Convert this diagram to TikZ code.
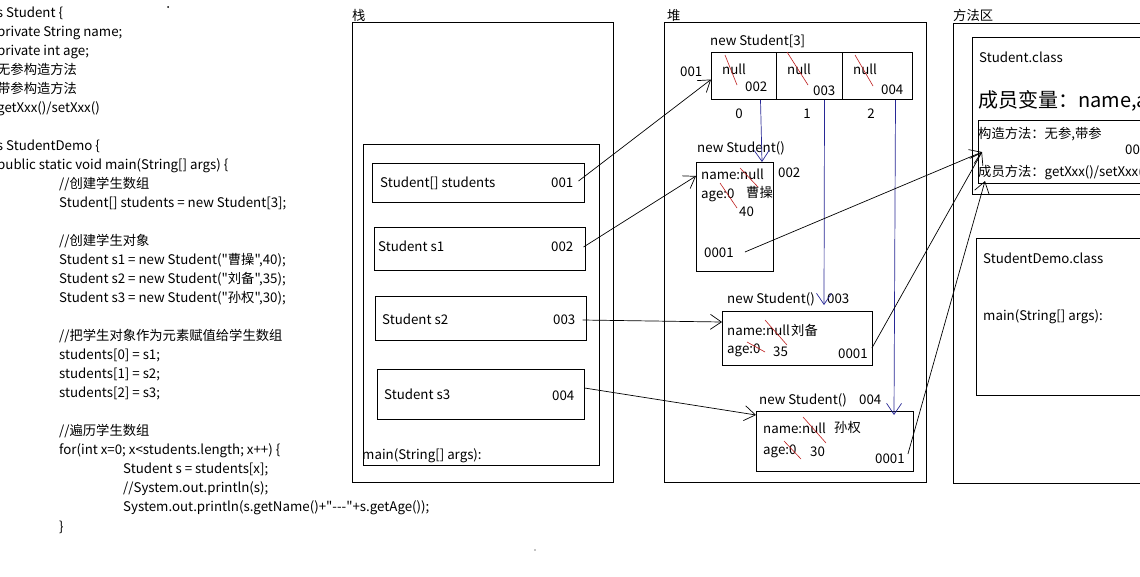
\documentclass[tikz,border=0pt]{standalone}
\usepackage{fontspec}
\setmainfont{Noto Sans CJK SC}[Ligatures=TeXOff]
\usetikzlibrary{arrows.meta}
\definecolor{refblue}{RGB}{40,40,150}
\definecolor{strikered}{RGB}{190,30,30}
\begin{document}
\begin{tikzpicture}[x=1pt,y=-1pt,
  box/.style={draw=black, line width=1pt, anchor=north west, inner sep=0pt},
  txt/.style={anchor=west, inner sep=0pt, font=\fontsize{13.3}{15}\selectfont,
              text height=9pt, text depth=1pt},
  idx/.style={txt, anchor=center},
  bigtxt/.style={txt, font=\fontsize{20}{24}\selectfont, text height=14pt, text depth=2pt},
  ptr/.style={line width=0.7pt, -{Straight Barb[length=11pt,width=15pt]}},
  bptr/.style={ptr, draw=refblue},
  strike/.style={draw=strikered, line width=0.6pt}]
\clip (0,0) rectangle (1140,576);
\fill[white] (0,0) rectangle (1140,576);

% ---------------- source code ----------------
\node[txt] (k1)  at (6,13)    {\llap{class }Student \{};
\node[txt] (k2)  at (-3,32)   {private String name;};
\node[txt] (k3)  at (-3,51)   {private int age;};
\node[txt] (k4)  at (-3,70)   {无参构造方法};
\node[txt] (k5)  at (-3,89)   {带参构造方法};
\node[txt] (k6)  at (-3,108)  {getXxx()/setXxx()};
\node[txt] (k7)  at (6,146)   {\llap{class }StudentDemo \{};
\node[txt] (k8)  at (-3,165)  {public static void main(String[] args) \{};
\node[txt] (k9)  at (59,184)  {//创建学生数组};
\node[txt] (k10) at (59,203)  {Student[] students = new Student[3];};
\node[txt] (k11) at (59,241)  {//创建学生对象};
\node[txt] (k12) at (59,260)  {Student s1 = new Student("曹操",40);};
\node[txt] (k13) at (59,279)  {Student s2 = new Student("刘备",35);};
\node[txt] (k14) at (59,298)  {Student s3 = new Student("孙权",30);};
\node[txt] (k15) at (59,336)  {//把学生对象作为元素赋值给学生数组};
\node[txt] (k16) at (59,355)  {students[0] = s1;};
\node[txt] (k17) at (59,374)  {students[1] = s2;};
\node[txt] (k18) at (59,393)  {students[2] = s3;};
\node[txt] (k19) at (59,431)  {//遍历学生数组};
\node[txt] (k20) at (59,450)  {for(int x=0; x<students.length; x++) \{};
\node[txt] (k21) at (123,469) {Student s = students[x];};
\node[txt] (k22) at (123,488) {//System.out.println(s);};
\node[txt] (k23) at (123,507) {System.out.println(s.getName()+"---"+s.getAge());};
\node[txt] (k24) at (59,527)  {\}};
\fill (168,7) circle (1pt);
\fill (535,550) circle (0.7pt);

% ---------------- stack ----------------
\node[txt] (lstack) at (352,16) {栈};
\node[box, minimum width=261pt, minimum height=460pt] (stack) at (352,22) {};
\node[box, minimum width=236pt, minimum height=321pt] (frame) at (363,144) {};
\node[box, minimum width=212pt, minimum height=39pt] (sv0) at (372,163) {};
\node[box, minimum width=211pt, minimum height=43pt] (sv1) at (374,227) {};
\node[box, minimum width=211pt, minimum height=44pt] (sv2) at (375,296) {};
\node[box, minimum width=207pt, minimum height=50pt] (sv3) at (377,369) {};
\node[txt] (n0) at (380,183) {Student[] students};
\node[txt] (v001) at (551,183) {001};
\node[txt] (n1) at (378,247) {Student s1};
\node[txt] (v002) at (551,247) {002};
\node[txt] (n2) at (382,320) {Student s2};
\node[txt] (v003) at (553,320) {003};
\node[txt] (n3) at (384,395) {Student s3};
\node[txt] (v004) at (552,396) {004};
\node[txt] (mainf) at (362,455) {main(String[] args):};

% ---------------- heap ----------------
\node[txt] (lheap) at (667,16) {堆};
\node[box, minimum width=262pt, minimum height=460pt] (heap) at (664,22) {};
% array object
\node[txt] (arrt) at (710,41) {new Student[3]};
\node[txt] (a001) at (680,72) {001};
\node[box, minimum width=65pt, minimum height=47pt] (c0) at (711,52) {};
\node[box, minimum width=66pt, minimum height=47pt] (c1) at (776,52) {};
\node[box, minimum width=70pt, minimum height=47pt] (c2) at (842,52) {};
\node[txt] (z0) at (722,70) {null};
\node[txt] (z1) at (787,70) {null};
\node[txt] (z2) at (853,70) {null};
\node[txt] (r0) at (745,87) {002};
\node[txt] (r1) at (813,91) {003};
\node[txt] (r2) at (881,90) {004};
\node[idx] (i0) at (739,114) {0};
\node[idx] (i1) at (807,114) {1};
\node[idx] (i2) at (871,114) {2};
% student object 1
\node[txt] (h1) at (697,148) {new Student()};
\node[box, minimum width=77pt, minimum height=109pt] (s1obj) at (696,162) {};
\node[txt] (a002) at (778,173) {002};
\node[txt] (nm1) at (701,175) {name:null};
\node[txt] (cn1) at (746,193) {曹操};
\node[txt] (ag1) at (701,194) {age:0};
\node[txt] (av1) at (739,212) {40};
\node[txt] (o1) at (704,253) {0001};
% student object 2
\node[txt] (h2) at (727,299) {new Student()};
\node[txt] (a003) at (827,299) {003};
\node[box, minimum width=150pt, minimum height=54pt] (s2obj) at (722,311) {};
\node[txt] (nm2) at (727,331) {name:null};
\node[txt] (cn2) at (791,331) {刘备};
\node[txt] (ag2) at (727,349) {age:0};
\node[txt] (av2) at (773,352) {35};
\node[txt] (o2) at (838,354) {0001};
% student object 3
\node[txt] (h3) at (759,400) {new Student()};
\node[txt] (a004) at (859,400) {004};
\node[box, minimum width=157pt, minimum height=60pt] (s3obj) at (756,411) {};
\node[txt] (nm3) at (763,429) {name:null};
\node[txt] (cn3) at (834,428) {孙权};
\node[txt] (ag3) at (763,450) {age:0};
\node[txt] (av3) at (810,452) {30};
\node[txt] (o3) at (875,459) {0001};

% crossed-out initial values
\draw[strike] (725,55) -- (737,85);
\draw[strike] (787,52) -- (808,85);
\draw[strike] (855,55) -- (873,86);
\draw[strike] (740,168) -- (758,187);
\draw[strike] (720,183) -- (737,208);
\draw[strike] (765,320) -- (787,345);
\draw[strike] (747,342) -- (765,352);
\draw[strike] (803,417) -- (826,443);
\draw[strike] (784,441) -- (801,459);

% ---------------- method area ----------------
\node[txt] (lmeth) at (953,16) {方法区};
\node[box, minimum width=200pt, minimum height=460pt] (meth) at (953,23) {};
\node[box, minimum width=180pt, minimum height=157pt] (scls) at (972,37) {};
\node[txt] (scn) at (979,58) {Student.class};
\node[bigtxt] (mv) at (978,101) {成员变量：name,age};
\node[box, minimum width=175pt, minimum height=63pt] (mi) at (978,120) {};
\node[txt] (ctor) at (978,134) {构造方法：无参,带参};
\node[txt] (maddr) at (1125,150) {0001};
\node[txt] (mm) at (978,172) {成员方法：getXxx()/setXxx()};
\node[box, minimum width=180pt, minimum height=157pt] (dcls) at (976,238) {};
\node[txt] (dcn) at (983,259) {StudentDemo.class};
\node[txt] (dmain) at (983,316) {main(String[] args):};

% ---------------- references ----------------
\draw[ptr] ([xshift=5pt,yshift=2pt]v001.east) -- ([yshift=-3.5pt]c0.west);
\draw[ptr] ([xshift=10pt]v002.east) -- ([yshift=-14pt]s1obj.north west);
\draw[ptr] ([xshift=7pt]v003.east) -- ([yshift=-11pt]s2obj.north west);
\draw[ptr] ([xshift=10pt,yshift=8pt]v004.east) -- ([yshift=-4pt]s3obj.north west);

\draw[bptr] ([xshift=16.5pt]c0.south) -- ([xshift=66pt]s1obj.north west);
\draw[bptr] ([xshift=15pt]c1.south) -- ([xshift=102pt,yshift=6pt]s2obj.north west);
\draw[bptr] ([xshift=18pt]c2.south) -- ([xshift=138pt,yshift=-4pt]s3obj.north west);

\draw[ptr] ([xshift=11pt,yshift=1pt]o1.east) -- ([xshift=4pt,yshift=-32pt]mi.north west);
\draw[ptr] ([xshift=4pt,yshift=6pt]o2.east) -- ([xshift=4pt,yshift=-32pt]mi.north west);
\draw[ptr] ([xshift=3pt,yshift=5pt]o3.east) -- ([xshift=7pt,yshift=-61pt]mi.north west);
\end{tikzpicture}
\end{document}
